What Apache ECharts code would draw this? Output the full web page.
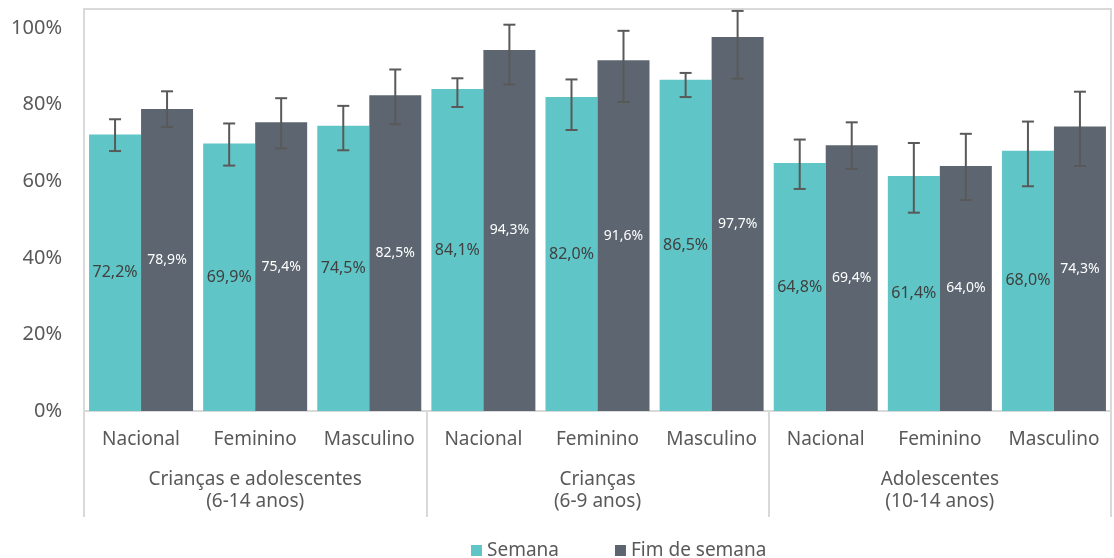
<!DOCTYPE html>
<html>
<head>
<meta charset="utf-8">
<script src="https://cdn.jsdelivr.net/npm/echarts@6/dist/echarts.min.js"></script>
<style>
  html, body { margin: 0; padding: 0; background: #fff; }
  #chart { width: 1114px; height: 558px; }
</style>
</head>
<body>
<div id="chart"></div>
<script>
// --- data ---
const categories = ['Nacional', 'Feminino', 'Masculino', 'Nacional', 'Feminino', 'Masculino', 'Nacional', 'Feminino', 'Masculino'];
const groups     = ['Crianças e adolescentes\n(6-14 anos)', 'Crianças\n(6-9 anos)', 'Adolescentes\n(10-14 anos)'];
const yTicks     = [0, 20, 40, 60, 80, 100];

const semana     = [72.2, 69.9, 74.5, 84.1, 82.0, 86.5, 64.8, 61.4, 68.0];
const semanaLow  = [67.9, 64.1, 68.1, 79.4, 73.4, 82.0, 58.0, 51.8, 58.7];
const semanaHigh = [76.2, 75.1, 79.7, 86.9, 86.6, 88.3, 70.9, 70.0, 75.6];

const fim        = [78.9, 75.4, 82.5, 94.3, 91.6, 97.7, 69.4, 64.0, 74.3];
const fimLow     = [74.2, 68.6, 74.9, 85.3, 80.7, 86.8, 63.2, 55.1, 64.0];
const fimHigh    = [83.5, 81.7, 89.2, 100.9, 99.3, 104.5, 75.4, 72.4, 83.4];

const COL_SEMANA = '#5fc5c6';
const COL_FIM    = '#5d6670';
const GRID_COL   = '#d9d9d9';
const TEXT_COL   = '#595959';
const FONT       = "'Noto Sans', sans-serif";
const BAR_W      = 52;

const chart = echarts.init(document.getElementById('chart'), null, { renderer: 'canvas' });

// error bar drawn at the bar's centre; side = -1 left bar, +1 right bar
const errorBars = (side) => (params, api) => {
  const i  = api.value(0);
  const lo = api.coord([i, api.value(1)]);
  const hi = api.coord([i, api.value(2)]);
  const x  = lo[0] + side * BAR_W / 2;
  const cap = 6;
  const style = { stroke: '#595959', lineWidth: 2 };
  return {
    type: 'group',
    children: [
      { type: 'line', shape: { x1: x, y1: lo[1], x2: x, y2: hi[1] }, style },
      { type: 'line', shape: { x1: x - cap, y1: lo[1], x2: x + cap, y2: lo[1] }, style },
      { type: 'line', shape: { x1: x - cap, y1: hi[1], x2: x + cap, y2: hi[1] }, style },
    ],
  };
};

const pct = v => v.toFixed(1).replace('.', ',') + '%';

chart.setOption({
  animation: false,
  textStyle: { fontFamily: FONT },
  grid: {
    left: 84, right: 3, top: 9, bottom: 147,
    show: true, borderColor: GRID_COL, borderWidth: 2, backgroundColor: 'transparent',
  },
  legend: {
    top: 536,
    left: 466,
    icon: 'rect',
    itemWidth: 11, itemHeight: 11,
    itemGap: 56,
    textStyle: { color: TEXT_COL, fontSize: 19, fontFamily: FONT },
    data: ['Semana', 'Fim de semana'],
  },
  xAxis: [
    {
      type: 'category',
      data: categories,
      axisLine: { lineStyle: { color: GRID_COL, width: 2 } },
      axisTick: { show: false },
      axisLabel: { color: TEXT_COL, fontSize: 19, margin: 19, interval: 0 },
    },
    {
      type: 'category',
      data: groups,
      position: 'bottom',
      axisLine: { show: false },
      axisTick: { show: true, length: 106, lineStyle: { color: GRID_COL, width: 2 } },
      axisLabel: { color: TEXT_COL, fontSize: 19, margin: 58, lineHeight: 22, interval: 0 },
    },
  ],
  yAxis: {
    type: 'value',
    min: 0, max: 105, interval: 20,
    axisLine: { show: false },
    axisTick: { show: false },
    splitLine: { show: false },
    axisLabel: {
      color: TEXT_COL, fontSize: 20, margin: 22, showMaxLabel: false,
      formatter: v => (yTicks.includes(v) ? v + '%' : ''),
    },
  },
  series: [
    {
      name: 'Semana',
      type: 'bar',
      barWidth: BAR_W,
      barGap: '0%',
      data: semana,
      itemStyle: { color: COL_SEMANA },
      label: { show: true, position: 'inside', color: '#404040', fontSize: 16, formatter: p => pct(p.value) },
    },
    {
      name: 'Fim de semana',
      type: 'bar',
      barWidth: BAR_W,
      data: fim,
      itemStyle: { color: COL_FIM },
      label: { show: true, position: 'inside', color: '#ffffff', fontSize: 14, formatter: p => pct(p.value) },
    },
    {
      type: 'custom',
      renderItem: errorBars(-1),
      data: semana.map((_, i) => [i, semanaLow[i], semanaHigh[i]]),
      z: 5,
      silent: true,
    },
    {
      type: 'custom',
      renderItem: errorBars(1),
      data: fim.map((_, i) => [i, fimLow[i], fimHigh[i]]),
      z: 5,
      silent: true,
    },
  ],
});
</script>
</body>
</html>
